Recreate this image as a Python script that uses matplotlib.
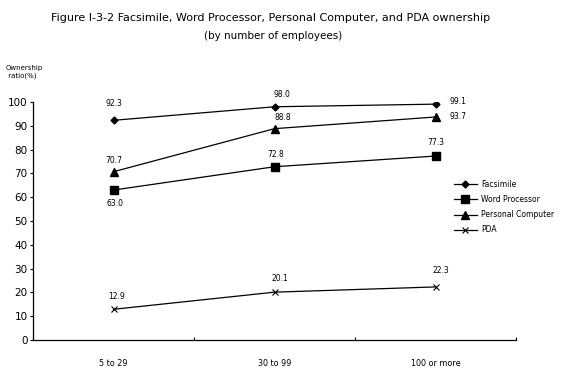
import matplotlib
matplotlib.use("Agg")
import matplotlib.pyplot as plt

plt.rcParams['font.family'] = ['DejaVu Sans']

categories = ['5 to 29', '30 to 99', '100 or more']
facsimile = [92.3, 98.0, 99.1]
word_processor = [63.0, 72.8, 77.3]
personal_computer = [70.7, 88.8, 93.7]
pda = [12.9, 20.1, 22.3]

fig = plt.figure(figsize=(5.74, 3.71), dpi=100)
ax = fig.add_axes([33 / 574, 1 - 340 / 371, (516 - 33) / 574, (340 - 102) / 371])

x = [0, 1, 2]
ax.plot(x, facsimile, color='black', lw=0.9, marker='D', markersize=3.5, label='Facsimile')
ax.plot(x, word_processor, color='black', lw=0.9, marker='s', markersize=6, label='Word Processor')
ax.plot(x, personal_computer, color='black', lw=0.9, marker='^', markersize=5.5, label='Personal Computer')
ax.plot(x, pda, color='black', lw=0.9, marker='x', markersize=4, markeredgewidth=0.8, label='PDA')

# label offsets in points (dx, dy)
offsets = {
    'fac': [(0, 12), (5, 9), (16, 2)],
    'wp': [(1, -10), (1, 9), (0, 10)],
    'pc': [(0, 8), (6, 8), (16, 0)],
    'pda': [(2, 9), (4, 10), (4, 12)],
}
series = [('fac', facsimile), ('wp', word_processor), ('pc', personal_computer), ('pda', pda)]
for key, vals in series:
    for i, v in enumerate(vals):
        ax.annotate(f'{v:.1f}', (i, v), xytext=offsets[key][i], textcoords='offset points',
                    ha='center', va='center', fontsize=5.5)

ax.set_xlim(-0.5, 2.5)
ax.set_ylim(0, 100)
ax.set_yticks(range(0, 101, 10))
ax.set_xticks(x)
ax.set_xticklabels(categories, fontsize=5.8)
ax.set_xticks([-0.5, 0.5, 1.5, 2.5], minor=True)
ax.tick_params(axis='x', which='major', length=0, pad=14)
ax.tick_params(axis='x', which='minor', length=2, direction='in', width=0.8)
ax.tick_params(axis='y', labelsize=7.5, length=2, width=0.8, pad=2)
for s in ['top', 'right']:
    ax.spines[s].set_visible(False)
for s in ['left', 'bottom']:
    ax.spines[s].set_linewidth(0.9)

ax.legend(loc='upper left', bbox_to_anchor=(0.865, 0.685), frameon=False, fontsize=5.5,
          handlelength=3, handletextpad=0.6, labelspacing=0.8, borderaxespad=0)

fig.text(271 / 574, 1 - 18 / 371, 'Figure I-3-2 Facsimile, Word Processor, Personal Computer, and PDA ownership',
         ha='center', va='center', fontsize=8)
fig.text(273 / 574, 1 - 36 / 371, '(by number of employees)', ha='center', va='center', fontsize=7.5)
fig.text(6 / 574, 1 - 72 / 371, 'Ownership\n ratio(%)', ha='left', va='center', fontsize=5, linespacing=1.3)

fig.savefig('out.png', dpi=100, facecolor='white')
